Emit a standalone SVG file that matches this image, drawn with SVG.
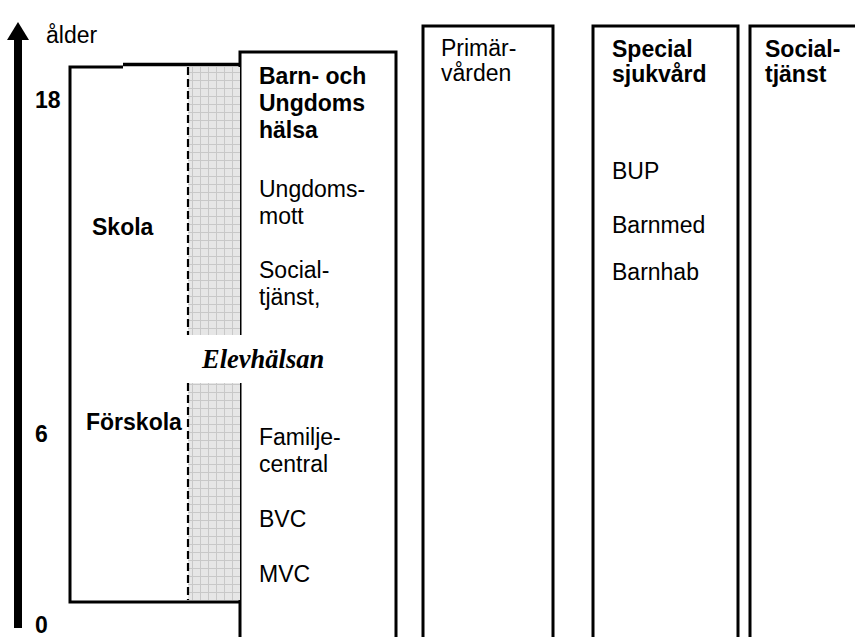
<svg xmlns="http://www.w3.org/2000/svg" width="855" height="637" viewBox="0 0 855 637">
<style>
.t{font-family:"Liberation Sans",Arial,sans-serif;font-size:23px;fill:#000}
.b{font-weight:bold}
.ln{fill:none;stroke:#000;stroke-width:3}
</style>
<defs>
<pattern id="grid" width="8" height="8" patternUnits="userSpaceOnUse">
<rect width="8" height="8" fill="#e6e6e6"/>
<path d="M0 0.5H8M0.5 0V8" stroke="#c8c8c8" stroke-width="1"/>
</pattern>
</defs>
<rect width="855" height="637" fill="#fff"/>
<g id="axis">
<rect x="14" y="38" width="8" height="590" fill="#000"/>
<polygon points="7,40 29,40 18,22" fill="#000"/>
<text class="t" x="46" y="43">ålder</text>
<text class="t b" x="35" y="108">18</text>
<text class="t b" x="35" y="442">6</text>
<text class="t b" x="35" y="633">0</text>
</g>
<g id="skola">
<path class="ln" d="M240 602H70V67H123"/>
<path d="M123 64.5H241" stroke="#000" stroke-width="3.5" fill="none"/>
<text class="t b" x="92" y="235">Skola</text>
<text class="t b" x="86" y="430">Förskola</text>
</g>
<g id="bu">
<path class="ln" d="M240 640V52H396V640"/>
<text class="t b" x="259" y="84">Barn- och</text>
<text class="t b" x="259" y="111">Ungdoms</text>
<text class="t b" x="259" y="138">hälsa</text>
<text class="t" x="259" y="197">Ungdoms-</text>
<text class="t" x="259" y="224">mott</text>
<text class="t" x="259" y="278">Social-</text>
<text class="t" x="259" y="305">tjänst,</text>
<text class="t" x="259" y="445">Familje-</text>
<text class="t" x="259" y="472">central</text>
<text class="t" x="259" y="527">BVC</text>
<text class="t" x="259" y="582">MVC</text>
</g>
<g id="elevhalsan">
<rect x="188" y="67" width="52" height="268" fill="url(#grid)"/>
<rect x="188" y="383" width="52" height="217" fill="url(#grid)"/>
<path d="M188 67V335M188 383V600" stroke="#000" stroke-width="2.2" stroke-dasharray="8,4" fill="none"/>
<rect x="186" y="335" width="60" height="48" fill="#fff"/>
<text x="202" y="368" style="font-family:'Liberation Serif','Times New Roman',serif;font-size:26.5px;font-weight:bold;font-style:italic">Elevhälsan</text>
</g>
<g id="primar">
<path class="ln" d="M423 640V26H553V640"/>
<text class="t" x="441" y="56">Primär-</text>
<text class="t" x="441" y="81">vården</text>
</g>
<g id="special">
<path class="ln" d="M593 640V26H738V640"/>
<text class="t b" x="612" y="57">Special</text>
<text class="t b" x="612" y="82">sjukvård</text>
<text class="t" x="612" y="179">BUP</text>
<text class="t" x="612" y="233">Barnmed</text>
<text class="t" x="612" y="280">Barnhab</text>
</g>
<g id="social">
<path class="ln" d="M750 640V26H860"/>
<text class="t b" x="765" y="57">Social-</text>
<text class="t b" x="765" y="82">tjänst</text>
</g>
<g id="connectors"></g>
</svg>
